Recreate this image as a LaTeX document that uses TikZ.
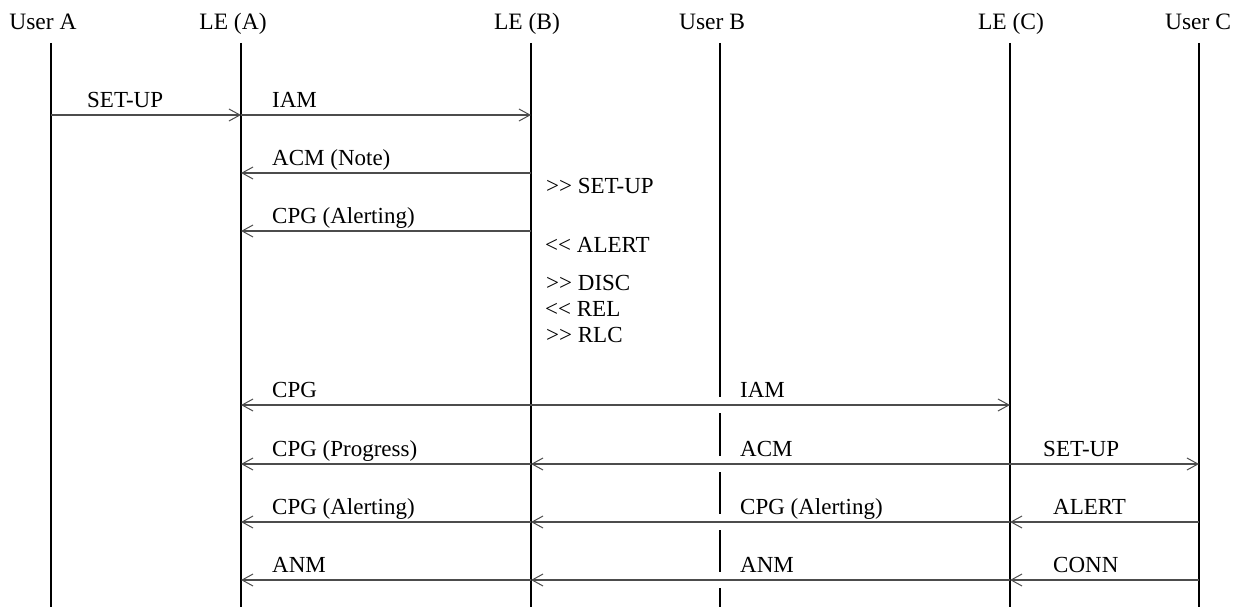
\documentclass[tikz,border=0pt]{standalone}
\usepackage{fontspec}
\setmainfont{Liberation Serif}
\usetikzlibrary{arrows.meta}
\begin{document}
\begin{tikzpicture}[x=1pt,y=-1pt,
  life/.style={line width=2.2pt,black},
  msg/.style={line width=1.4pt,black!70},
  hd/.style={-{Straight Barb[length=11pt,width=12pt,line width=1pt]}},
  lbl/.style={anchor=base west,inner sep=0pt,font=\fontsize{23}{26}\selectfont},
  hdr/.style={anchor=base,inner sep=0pt,font=\fontsize{23.5}{26}\selectfont}]
\useasboundingbox (0,0) rectangle (1241,607);
% lifeline tops and bottom
\coordinate (uA) at (51,43);
\coordinate (leA) at (241,43);
\coordinate (leB) at (531,43);
\coordinate (uB) at (720,43);
\coordinate (leC) at (1010,43);
\coordinate (uC) at (1199,43);
\coordinate (bot) at (0,607);
% rows
\coordinate (r1) at (0,115);
\coordinate (r2) at (0,173);
\coordinate (r3) at (0,231);
\coordinate (r4) at (0,405);
\coordinate (r5) at (0,464);
\coordinate (r6) at (0,522);
\coordinate (r7) at (0,580);
% headers
\node[hdr] (hA) at (43,30) {User A};
\node[hdr] (hLA) at (233,30) {LE (A)};
\node[hdr] (hLB) at (527,30) {LE (B)};
\node[hdr] (hB) at (712,30) {User B};
\node[hdr] (hLC) at (1011,30) {LE (C)};
\node[hdr] (hC) at (1198,30) {User C};
% lifelines
\draw[life] (uA) -- (uA|-bot);
\draw[life] (leA) -- (leA|-bot);
\draw[life] (leB) -- (leB|-bot);
\draw[life] (leC) -- (leC|-bot);
\draw[life] (uC) -- (uC|-bot);
\coordinate (g1a) at (720,397); \coordinate (g1b) at (720,413);
\coordinate (g2a) at (720,456); \coordinate (g2b) at (720,472);
\coordinate (g3a) at (720,514); \coordinate (g3b) at (720,530);
\coordinate (g4a) at (720,572); \coordinate (g4b) at (720,588);
\draw[life] (uB) -- (g1a) (g1b) -- (g2a) (g2b) -- (g3a) (g3b) -- (g4a) (g4b) -- (uB|-bot);
% messages
\draw[msg,hd] (uA|-r1) -- (leA|-r1);
\draw[msg,hd] (leA|-r1) -- (leB|-r1);
\draw[msg,hd] (leB|-r2) -- (leA|-r2);
\draw[msg,hd] (leB|-r3) -- (leA|-r3);
\draw[msg,{Straight Barb[length=11pt,width=12pt,line width=1pt]}-{Straight Barb[length=11pt,width=12pt,line width=1pt]}] (leA|-r4) -- (leC|-r4);
\draw[msg,hd] (leB|-r5) -- (leA|-r5);
\draw[msg,hd] (leC|-r5) -- (leB|-r5);
\draw[msg,hd] (leC|-r5) -- (uC|-r5);
\draw[msg,hd] (leB|-r6) -- (leA|-r6);
\draw[msg,hd] (leC|-r6) -- (leB|-r6);
\draw[msg,hd] (uC|-r6) -- (leC|-r6);
\draw[msg,hd] (leB|-r7) -- (leA|-r7);
\draw[msg,hd] (leC|-r7) -- (leB|-r7);
\draw[msg,hd] (uC|-r7) -- (leC|-r7);
% labels
\node[lbl] (l1) at (87,107) {SET-UP};
\node[lbl] (l2) at (272,107) {IAM};
\node[lbl] (l3) at (272,165) {ACM (Note)};
\node[lbl] (l4) at (272,223) {CPG (Alerting)};
\node[lbl] (n1) at (546,193) {>\kern0pt> SET-UP};
\node[lbl] (n2) at (545,252) {<\kern0pt< ALERT};
\node[lbl] (n3) at (546,290) {>\kern0pt> DISC};
\node[lbl] (n4) at (545,316) {<\kern0pt< REL};
\node[lbl] (n5) at (546,342) {>\kern0pt> RLC};
\node[lbl] (l5) at (272,397) {CPG};
\node[lbl] (l6) at (740,397) {IAM};
\node[lbl] (l7) at (272,456) {CPG (Progress)};
\node[lbl] (l8) at (740,456) {ACM};
\node[lbl] (l9) at (1043,456) {SET-UP};
\node[lbl] (l10) at (272,514) {CPG (Alerting)};
\node[lbl] (l11) at (740,514) {CPG (Alerting)};
\node[lbl] (l12) at (1053,514) {ALERT};
\node[lbl] (l13) at (272,572) {ANM};
\node[lbl] (l14) at (740,572) {ANM};
\node[lbl] (l15) at (1053,572) {CONN};
\end{tikzpicture}
\end{document}
